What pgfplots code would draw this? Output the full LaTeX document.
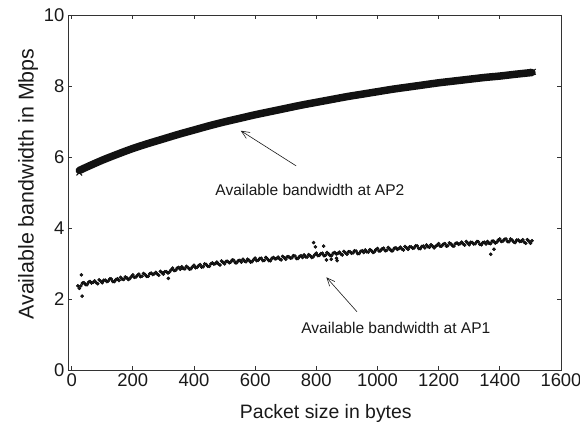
\documentclass[border=0pt]{standalone}
\usepackage{fontspec}
\setmainfont{Liberation Sans}
\usepackage{pgfplots}
\usepackage{pgfplotstable}
\pgfplotsset{compat=1.18}
\usetikzlibrary{arrows.meta}

\pgfplotstableread{
x y
25 5.62
50 5.72
100 5.91
150 6.08
200 6.24
250 6.38
300 6.51
350 6.64
400 6.76
450 6.88
500 6.99
550 7.09
600 7.19
650 7.28
700 7.37
750 7.46
800 7.54
850 7.62
900 7.70
950 7.77
1000 7.84
1050 7.91
1100 7.97
1150 8.03
1200 8.09
1250 8.14
1300 8.19
1350 8.24
1400 8.28
1450 8.33
1505 8.38
}\aptwo

\pgfplotstableread{
x y
20 2.37
25 2.30
30 2.37
35 2.45
40 2.46
45 2.41
50 2.40
55 2.47
60 2.49
65 2.45
70 2.47
75 2.51
80 2.46
85 2.43
90 2.54
95 2.50
100 2.46
105 2.53
110 2.53
115 2.49
120 2.51
125 2.57
130 2.56
135 2.49
140 2.49
145 2.55
150 2.57
155 2.52
160 2.61
165 2.56
170 2.55
175 2.62
180 2.60
185 2.55
190 2.57
195 2.63
200 2.68
205 2.61
210 2.62
215 2.67
220 2.70
225 2.63
230 2.64
235 2.72
240 2.69
245 2.64
250 2.64
255 2.71
260 2.73
265 2.69
270 2.71
275 2.75
280 2.70
285 2.67
290 2.78
295 2.74
300 2.70
305 2.77
310 2.77
315 2.73
320 2.76
325 2.82
330 2.87
335 2.80
340 2.81
345 2.87
350 2.89
355 2.84
360 2.91
365 2.86
370 2.85
375 2.92
380 2.89
385 2.84
390 2.85
395 2.91
400 2.95
405 2.88
410 2.89
415 2.94
420 2.97
425 2.90
430 2.91
435 2.99
440 2.97
445 2.92
450 2.92
455 2.99
460 3.02
465 2.98
470 3.00
475 3.04
480 2.99
485 2.96
490 3.07
495 3.03
500 2.99
505 3.06
510 3.06
515 3.02
520 3.04
525 3.10
530 3.09
535 3.02
540 3.02
545 3.08
550 3.09
555 3.04
560 3.12
565 3.07
570 3.05
575 3.12
580 3.09
585 3.04
590 3.05
595 3.11
600 3.15
605 3.08
610 3.09
615 3.14
620 3.15
625 3.08
630 3.09
635 3.17
640 3.13
645 3.08
650 3.08
655 3.15
660 3.17
665 3.13
670 3.14
675 3.18
680 3.13
685 3.10
690 3.20
695 3.16
700 3.12
705 3.19
710 3.19
715 3.15
720 3.16
725 3.22
730 3.21
735 3.14
740 3.14
745 3.20
750 3.22
755 3.17
760 3.24
765 3.19
770 3.18
775 3.25
780 3.22
785 3.17
790 3.19
795 3.25
800 3.29
805 3.22
810 3.23
815 3.28
820 3.29
825 3.22
830 3.23
835 3.31
840 3.27
845 3.22
850 3.22
855 3.29
860 3.31
865 3.27
870 3.28
875 3.32
880 3.27
885 3.24
890 3.34
895 3.30
900 3.26
905 3.33
910 3.33
915 3.29
920 3.30
925 3.36
930 3.35
935 3.28
940 3.28
945 3.34
950 3.36
955 3.31
960 3.38
965 3.33
970 3.32
975 3.39
980 3.36
985 3.31
990 3.33
995 3.39
1000 3.42
1005 3.35
1010 3.36
1015 3.41
1020 3.43
1025 3.36
1030 3.37
1035 3.45
1040 3.41
1045 3.36
1050 3.36
1055 3.43
1060 3.44
1065 3.40
1070 3.42
1075 3.46
1080 3.41
1085 3.38
1090 3.48
1095 3.44
1100 3.40
1105 3.47
1110 3.47
1115 3.43
1120 3.44
1125 3.50
1130 3.49
1135 3.42
1140 3.42
1145 3.48
1150 3.49
1155 3.44
1160 3.52
1165 3.47
1170 3.46
1175 3.53
1180 3.49
1185 3.44
1190 3.48
1195 3.52
1200 3.56
1205 3.49
1210 3.49
1215 3.54
1220 3.56
1225 3.49
1230 3.50
1235 3.58
1240 3.55
1245 3.50
1250 3.49
1255 3.56
1260 3.58
1265 3.54
1270 3.56
1275 3.60
1280 3.55
1285 3.52
1290 3.62
1295 3.58
1300 3.53
1305 3.60
1310 3.59
1315 3.55
1320 3.56
1325 3.62
1330 3.61
1335 3.54
1340 3.53
1345 3.59
1350 3.60
1355 3.55
1360 3.62
1365 3.57
1370 3.56
1375 3.63
1380 3.63
1385 3.58
1390 3.60
1395 3.66
1400 3.69
1405 3.62
1410 3.63
1415 3.68
1420 3.69
1425 3.62
1430 3.61
1435 3.69
1440 3.66
1445 3.61
1450 3.59
1455 3.66
1460 3.66
1465 3.62
1470 3.63
1475 3.67
1480 3.60
1485 3.57
1490 3.67
1495 3.63
1500 3.57
1505 3.64
32 2.68
34 2.08
316 2.58
791 3.59
797 3.47
824 3.49
833 3.10
849 3.12
868 3.08
866 3.15
1370 3.26
1381 3.40
}\apone

\begin{document}
\begin{tikzpicture}
\begin{axis}[
  scale only axis, width=493bp, height=355bp,
  xmin=-12, xmax=1600, ymin=0, ymax=10,
  xtick={0,200,...,1600}, ytick={0,2,...,10},
  tick align=inside, major tick length=4bp,
  axis line style={draw=black!80, line width=0.8bp},
  every tick/.style={draw=black!80, line width=0.8bp},
  tick label style={font=\fontsize{18.5}{20}\selectfont, text=black!90},
  /pgf/number format/assume math mode=true,
  /pgf/number format/1000 sep={},
  xlabel={Packet size in bytes},
  ylabel={Available bandwidth in Mbps},
  xlabel style={font=\fontsize{19.5}{22}\selectfont, text=black!90,
    at={([yshift=-48bp]axis description cs:0.523,0)}, anchor=base},
  ylabel style={font=\fontsize{21.5}{24}\selectfont, text=black!90,
    at={([xshift=-40bp]axis description cs:0,0.524)}, anchor=center},
  clip=false,
]
\addplot[draw=black!93, line width=7.5bp, line cap=round, smooth] table[x=x,y=y] {\aptwo};
\addplot[only marks, mark=x, mark size=4bp, line width=1bp, black!93] coordinates {(25,5.56) (1508,8.40)};
\addplot[only marks, mark=*, mark size=1.6bp, draw=none, fill=black!88, mark options={draw=none, fill=black!88}] table[x=x,y=y] {\apone};

\draw[-{Straight Barb[length=8bp,width=7bp]}, line width=0.6bp, black!90] (axis cs:734,5.75) -- (axis cs:553,6.74);
\draw[-{Straight Barb[length=8bp,width=7bp]}, line width=0.6bp, black!90] (axis cs:933,1.64) -- (axis cs:833,2.61);
\node[font=\fontsize{15.6}{18}\selectfont, text=black!90] at (axis cs:779,5.07) {Available bandwidth at AP2};
\node[font=\fontsize{15.6}{18}\selectfont, text=black!90] at (axis cs:1060,1.18) {Available bandwidth at AP1};

\coordinate (bl) at ([shift={(-68bp,-54bp)}]rel axis cs:0,0);
\coordinate (tr) at ([shift={(19bp,15bp)}]rel axis cs:1,1);
\end{axis}
\pgfresetboundingbox
\path[use as bounding box] (bl) rectangle (tr);
\end{tikzpicture}
\end{document}
